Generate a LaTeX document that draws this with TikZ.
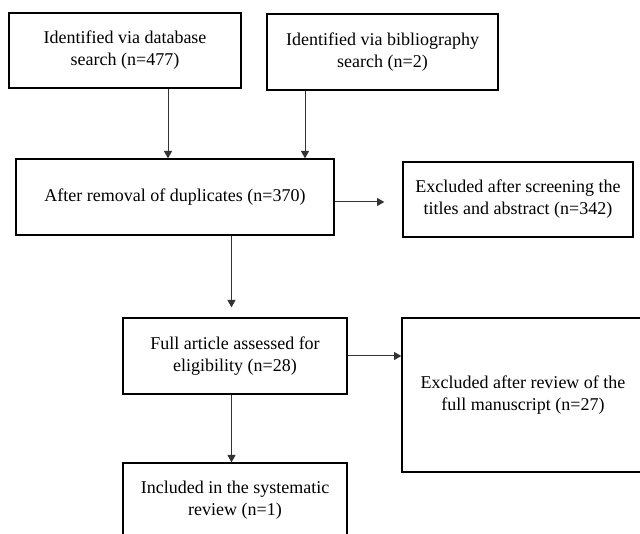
\documentclass[tikz,border=0pt]{standalone}
\usepackage{fontspec}
\setmainfont{Liberation Serif}
\usetikzlibrary{arrows.meta,positioning,calc}
\tikzset{
	pbox/.style={
		draw=black,
		line width=1pt,
		align=center,
		inner sep=2pt,
		font=\fontsize{13.5}{16.5}\selectfont
	},
	parr/.style={-{Triangle[length=5.5pt,width=6pt]}, line width=0.75pt, black!80}
}

\begin{document}
\begin{tikzpicture}[x=0.75pt, y=-0.75pt]
		\clip (0,0) rectangle (640,534);
		\node[pbox, minimum width=174pt, minimum height=56.25pt] (dbase) at (125,50.5)
			{Identified via database\\search (n=477)};
		\node[pbox, minimum width=173.25pt, minimum height=57pt] (biblio) at (382.5,52)
			{Identified via bibliography\\search (n=2)};
		\node[pbox, minimum width=238.5pt, minimum height=57pt] (dedup) at (175,197)
			{After removal of duplicates (n=370)};
		\node[pbox, minimum width=172.5pt, minimum height=56.25pt] (screen) at (518,199.5)
			{Excluded after screening the\\titles and abstract (n=342)};
		\node[pbox, minimum width=168pt, minimum height=57pt] (full) at (235,356)
			{Full article assessed for\\eligibility (n=28)};
		\node[pbox, minimum width=181.5pt, minimum height=115.5pt] (review) at (523,395)
			{Excluded after review of the\\full manuscript (n=27)};
		\node[pbox, minimum width=168pt, minimum height=55.5pt] (incl) at (235,500)
			{Included in the systematic\\review (n=1)};
		\coordinate (c1) at (168,0);
		\coordinate (c2) at (305,0);
		\coordinate (c3) at (231.5,0);
		\coordinate (r1) at (0,202);
		\draw[parr] (dbase.south -| c1) -- (dedup.north -| c1);
		\draw[parr] (biblio.south -| c2) -- (dedup.north -| c2);
		\draw[parr, shorten >=13.5pt] (dedup.east |- r1) -- (screen.west |- r1);
		\draw[parr, shorten >=7.5pt] (dedup.south -| c3) -- (full.north -| c3);
		\draw[parr] (full.east) -- (full.east -| review.west);
		\draw[parr] (full.south -| c3) -- (incl.north -| c3);
	\end{tikzpicture}
\end{document}
